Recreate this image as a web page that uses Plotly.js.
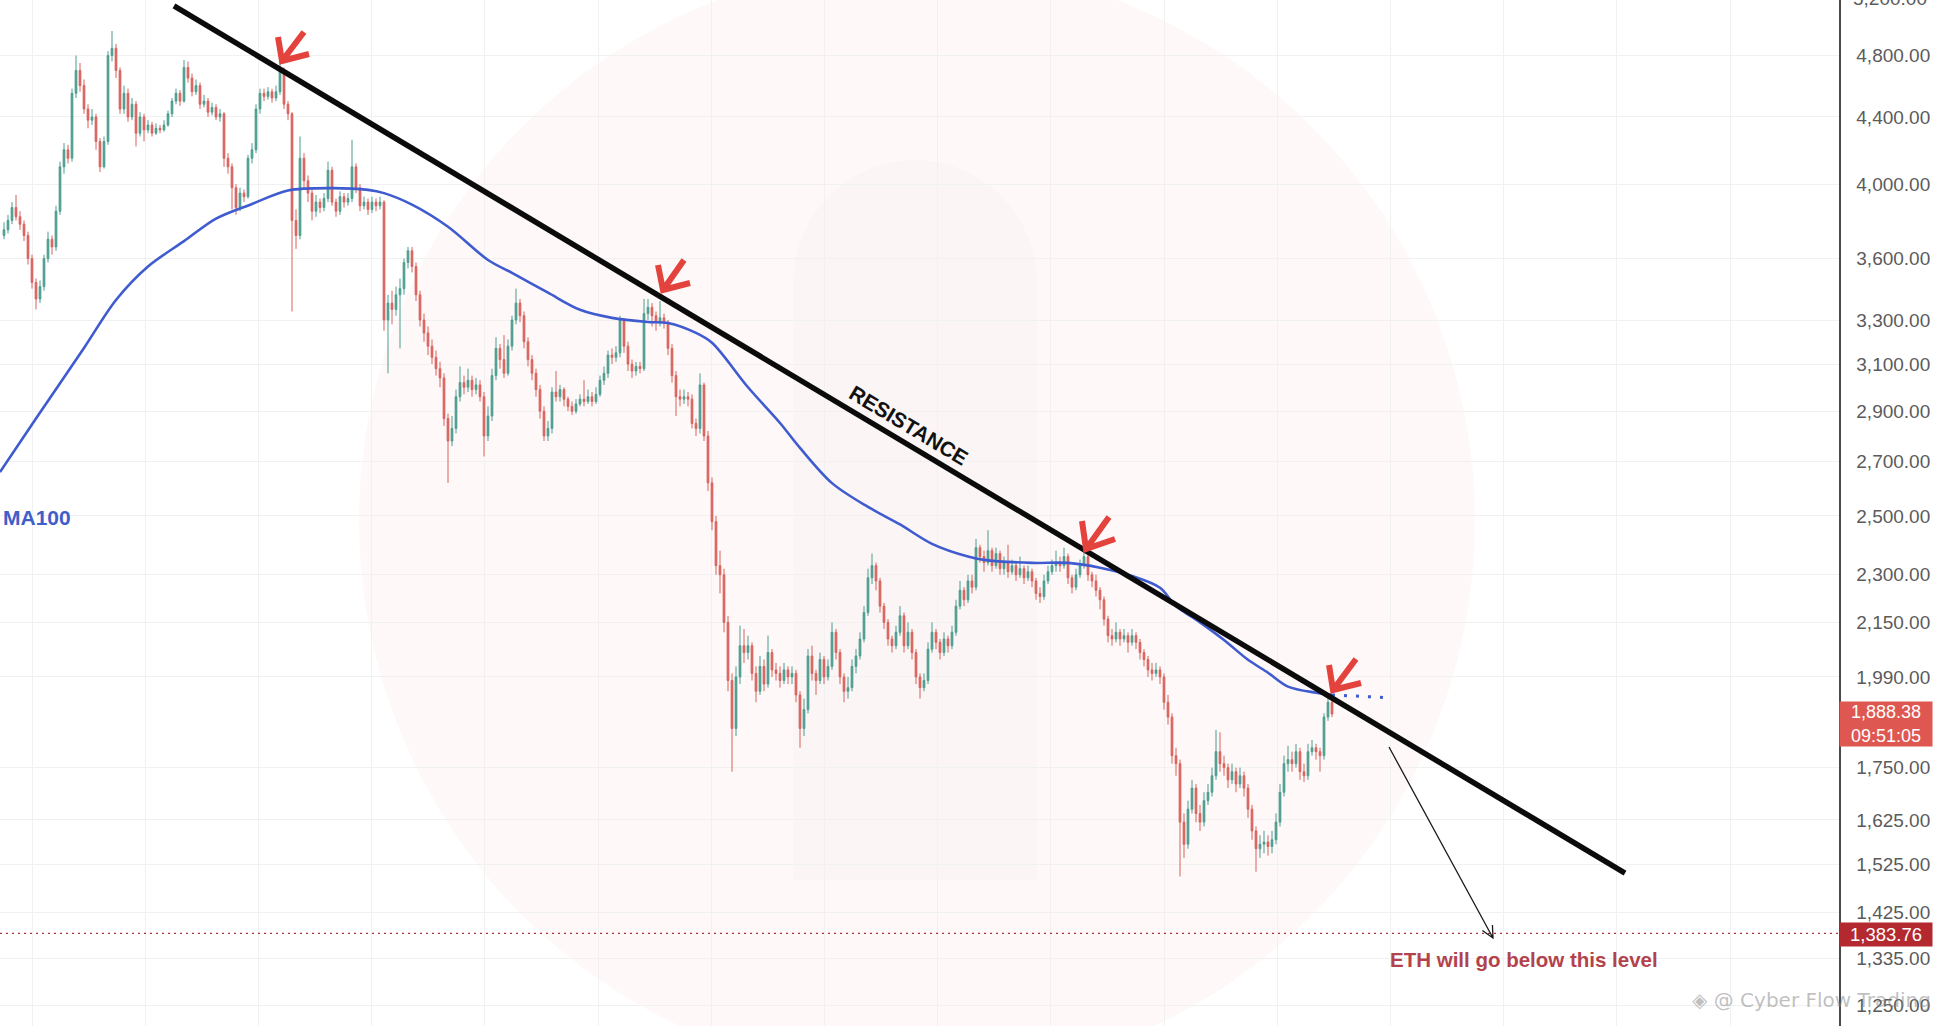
<!DOCTYPE html>
<html><head><meta charset="utf-8">
<script src="https://cdn.plot.ly/plotly-3.0.1.min.js"></script>
<style>html,body{margin:0;padding:0;background:#fff;}#chart{width:1944px;height:1026px;}</style>
</head><body><div id="chart"></div>
<script>
// ---------------- DATA ----------------
const firstOpen = 3720;
const close = [
3750,3800,3870,3820,3780,3720,3600,3480,3400,3460,
3600,3700,3660,3850,4100,4200,4150,4550,4700,4600,
4450,4380,4400,4250,4100,4250,4800,4850,4700,4450,
4550,4400,4480,4300,4400,4320,4350,4300,4330,4320,
4350,4420,4500,4550,4500,4720,4650,4560,4600,4480,
4500,4430,4460,4400,4420,4150,4100,3980,3870,3950,
3930,4150,4200,4450,4550,4530,4560,4520,4560,4700,
4480,4420,3800,3720,4150,4020,3950,3850,3900,3870,
3920,4080,3900,3850,3930,3900,3920,4100,3980,3880,
3900,3860,3900,3880,3900,3300,3380,3350,3420,3450,
3580,3640,3560,3420,3300,3240,3180,3130,3080,3040,
2870,2780,2830,2960,3020,3000,3030,2990,3010,2960,
2800,2880,3050,3170,3120,3060,3180,3300,3380,3320,
3200,3120,3060,2990,2900,2800,2830,2980,2960,2990,
2950,2920,2900,2930,2950,2940,2960,2940,2970,3030,
3060,3140,3130,3150,3300,3180,3100,3070,3090,3080,
3330,3360,3320,3290,3310,3290,3170,3050,2960,2950,
2960,2950,2850,2830,3010,2800,2620,2480,2330,2300,
2150,1980,1850,1990,2080,2060,2080,2000,1950,2020,
1970,2060,2010,2000,1980,2010,1990,2000,1940,1850,
1900,2050,2000,1980,2040,1990,2020,2120,2060,1990,
1950,1960,2020,2050,2100,2180,2290,2330,2280,2200,
2150,2100,2080,2120,2170,2080,2120,2060,1990,1960,
1980,2070,2120,2090,2060,2100,2080,2120,2200,2250,
2220,2280,2260,2390,2360,2340,2380,2330,2370,2320,
2340,2310,2330,2300,2320,2290,2310,2280,2240,2230,
2280,2310,2330,2340,2330,2360,2290,2260,2300,2330,
2360,2300,2280,2250,2220,2160,2110,2100,2120,2100,
2110,2090,2110,2090,2060,2040,2010,2000,2010,1990,
1920,1880,1780,1760,1620,1570,1650,1700,1640,1620,
1670,1690,1730,1790,1760,1750,1720,1740,1710,1730,
1700,1650,1600,1560,1570,1575,1565,1580,1620,1690,
1760,1770,1760,1790,1740,1730,1790,1800,1790,1780,
1880,1920,1888.38
];
const high = [
3790,3830,3900,3940,3850,3800,3740,3620,3500,3490,
3620,3740,3720,3880,4130,4240,4230,4580,4800,4750,
4640,4480,4450,4420,4270,4280,4830,4970,4880,4720,
4600,4580,4520,4500,4430,4420,4380,4370,4360,4350,
4380,4440,4520,4580,4570,4770,4760,4680,4640,4620,
4540,4520,4490,4480,4450,4430,4180,4120,4000,3980,
3970,4170,4240,4480,4580,4580,4590,4580,4600,4770,
4720,4500,4430,3860,4280,4180,4050,3970,3940,3920,
3950,4130,4100,3920,3960,3950,3950,4260,4120,4000,
3930,3920,3930,3920,3930,3910,3420,3440,3460,3500,
3600,3660,3660,3580,3440,3330,3270,3210,3160,3110,
3060,2890,2880,2990,3090,3050,3080,3050,3040,3030,
2980,2920,3080,3220,3190,3230,3210,3320,3450,3400,
3340,3220,3140,3080,3010,2920,2860,3000,3070,3010,
3000,2960,2940,2950,2970,3030,2990,2980,3000,3050,
3090,3160,3170,3180,3320,3310,3200,3120,3110,3110,
3400,3400,3380,3340,3390,3330,3300,3190,3070,2990,
2990,2980,2970,2870,3060,3020,2820,2640,2500,2380,
2320,2170,2000,2020,2140,2130,2110,2090,2020,2050,
2040,2110,2070,2030,2020,2030,2020,2020,2010,1950,
1930,2070,2080,2010,2060,2050,2040,2150,2130,2070,
2000,1990,2040,2070,2120,2200,2320,2370,2340,2290,
2210,2160,2110,2140,2200,2180,2150,2130,2070,2000,
2000,2090,2150,2130,2100,2120,2110,2140,2220,2280,
2260,2300,2300,2420,2400,2380,2450,2390,2390,2380,
2360,2400,2350,2340,2360,2330,2330,2320,2290,2260,
2300,2330,2350,2380,2360,2390,2370,2300,2320,2350,
2390,2370,2310,2300,2260,2230,2170,2130,2150,2130,
2130,2120,2130,2120,2100,2070,2050,2030,2030,2020,
2000,1940,1890,1800,1770,1640,1670,1720,1710,1660,
1690,1710,1750,1846,1840,1780,1760,1760,1750,1750,
1740,1710,1660,1610,1590,1600,1590,1600,1640,1710,
1780,1805,1790,1810,1800,1760,1810,1820,1810,1800,
1890,1940,1935
];
const low = [
3700,3730,3780,3800,3750,3690,3570,3450,3350,3380,
3440,3580,3620,3640,3830,4060,4120,4130,4520,4560,
4420,4330,4350,4200,4070,4090,4230,4760,4650,4420,
4420,4370,4380,4220,4280,4250,4300,4280,4290,4300,
4310,4340,4400,4480,4470,4490,4620,4530,4540,4450,
4460,4400,4410,4380,4370,4100,4060,3860,3830,3850,
3900,3920,4120,4180,4420,4500,4510,4490,4500,4540,
4450,4380,3340,3650,3700,3980,3900,3800,3820,3840,
3850,3900,3880,3820,3830,3870,3880,3900,3950,3850,
3860,3830,3840,3850,3860,3250,3060,3280,3320,3170,
3420,3550,3530,3390,3270,3200,3140,3100,3050,3000,
2840,2620,2760,2810,2940,2970,2980,2960,2970,2940,
2720,2780,2860,3030,3080,3040,3050,3160,3280,3290,
3170,3090,3030,2960,2870,2780,2780,2810,2940,2940,
2920,2900,2885,2890,2920,2920,2930,2920,2930,2960,
3010,3040,3100,3110,3130,3150,3070,3040,3050,3060,
3070,3300,3270,3250,3270,3260,3140,3020,2880,2920,
2930,2920,2830,2800,2810,2780,2590,2450,2300,2240,
2120,1950,1740,1830,1970,2030,2040,1980,1920,1940,
1950,1960,1990,1980,1960,1970,1970,1970,1920,1800,
1830,1890,1980,1940,1970,1970,1980,2010,2040,1970,
1920,1930,1950,2000,2040,2090,2170,2270,2250,2180,
2130,2080,2060,2070,2110,2060,2070,2040,1970,1930,
1950,1970,2060,2070,2040,2050,2060,2070,2110,2190,
2200,2210,2240,2250,2340,2310,2330,2310,2320,2300,
2300,2290,2300,2280,2290,2270,2280,2260,2220,2210,
2220,2270,2300,2310,2310,2320,2270,2240,2250,2290,
2320,2280,2260,2230,2190,2140,2090,2080,2090,2080,
2090,2060,2080,2070,2040,2020,1990,1980,1990,1970,
1900,1860,1760,1730,1500,1540,1560,1640,1620,1600,
1610,1660,1680,1720,1740,1730,1700,1710,1690,1700,
1680,1630,1580,1510,1540,1550,1545,1550,1570,1610,
1680,1740,1740,1750,1720,1715,1720,1780,1770,1740,
1770,1870,1880
];
// MA100 at candle indices
const maIdx = [-1,8,20,28,36,45,53,62,71,82,91,95,102,111,121,127,136,144,152,161,166,173,177,186,194,199,207,216,224,232,241,245,257,266,274,282,289,293,299,305,311,316,321,328,332];
const maVal = [2660,2870,3172,3395,3560,3690,3810,3890,3965,3978,3968,3950,3886,3766,3593,3528,3430,3348,3310,3291,3286,3240,3195,3000,2852,2753,2619,2532,2470,2403,2360,2349,2339,2339,2323,2296,2258,2200,2150,2097,2039,2002,1963,1946,1940];
const maProjIdx = [332, 347];
const maProjVal = [1940, 1932];
// resistance trend line end points (candle index, price)
const resIdx = [42.5, 405.25];
const resVal = [5150, 1507];
const levelVal = 1383.76;
const lastPrice = 1888.38;
const countdown = '09:51:05';
const tickVals = [1250,1335,1425,1525,1625,1750,1990,2150,2300,2500,2700,2900,3100,3300,3600,4000,4400,4800];

// ---------------- BUILD ----------------
function fmt(v){
  const p = v.toFixed(2).split('.');
  return p[0].replace(/\B(?=(\d{3})+(?!\d))/g, ',') + '.' + p[1];
}
const idx = close.map((_, i) => i);
const open = close.map((c, i) => i === 0 ? firstOpen : close[i-1]);
const hi = high.map((h, i) => Math.max(h, open[i], close[i]));
const lo = low.map((l, i) => Math.min(l, open[i], close[i]));

const XR = [-1, 458.75];
const YR = [3.08405, 3.71544];

const PW = 1839, PH = 1026;
const X = p => p / PW;
const Y = p => 1 - p / PH;
const pt = (a) => X(a[0]).toFixed(5) + ',' + Y(a[1]).toFixed(5);

const GREEN = '#4b9d8e', RED = '#d8625d';

const traces = [
  {type:'candlestick', x: idx, open: open, high: hi, low: lo, close: close,
   increasing:{line:{color:GREEN, width:1}, fillcolor:GREEN},
   decreasing:{line:{color:RED, width:1}, fillcolor:RED},
   whiskerwidth:0, hoverinfo:'skip', showlegend:false},
  {type:'scatter', mode:'lines', x: maIdx, y: maVal,
   line:{color:'#3f5bd0', width:2.6, shape:'spline', smoothing:0.9}, hoverinfo:'skip', showlegend:false},
  {type:'scatter', mode:'lines', x: maProjIdx, y: maProjVal,
   line:{color:'#3f5bd0', width:3, dash:'3px,9px'}, hoverinfo:'skip', showlegend:false},
  {type:'scatter', mode:'lines', x: XR, y: [levelVal, levelVal],
   line:{color:'#a8323a', width:1.4, dash:'2px,4px'}, hoverinfo:'skip', showlegend:false},
  {type:'scatter', mode:'lines', x: resIdx, y: resVal,
   line:{color:'#0b0b0b', width:5.5}, hoverinfo:'skip', showlegend:false}
];

// hand drawn red arrows (pixel geometry): shaft end, tip, arm1, arm2
const redArrows = [
  {s:[304,32],  t:[282,61],  a1:[278,37],  a2:[309,54]},
  {s:[684,260], t:[663,290], a1:[658,265], a2:[690,283]},
  {s:[1109,517],t:[1086,549],a1:[1082,521],a2:[1115,539]},
  {s:[1356,659],t:[1333,690],a1:[1329,665],a2:[1361,683]}
];
const shapes = [];
// faint watermark circle and badge
shapes.push({type:'circle', xref:'paper', yref:'paper', layer:'below',
  x0:X(359), x1:X(1475), y0:Y(1079), y1:Y(-37),
  fillcolor:'rgba(232,90,90,0.045)', line:{width:0}});
const bl=793, br=1037, bt=160, bb=880, bm=(bl+br)/2;
shapes.push({type:'path', xref:'paper', yref:'paper', layer:'below',
  path:`M ${pt([bl,bb])} L ${pt([bl,bt+122])} C ${pt([bl,bt+55])} ${pt([bm-67,bt])} ${pt([bm,bt])} C ${pt([bm+67,bt])} ${pt([br,bt+55])} ${pt([br,bt+122])} L ${pt([br,bb])} Z`,
  fillcolor:'rgba(0,0,0,0.012)', line:{width:0}});
redArrows.forEach(a => {
  shapes.push({type:'path', xref:'paper', yref:'paper',
    path:`M ${pt(a.s)} L ${pt(a.t)} M ${pt(a.a1)} L ${pt(a.t)} L ${pt(a.a2)}`,
    line:{color:'#e4433d', width:6}});
});
// thin black arrow
const p0=[1389,747], p1=[1493,938];
const dx=p1[0]-p0[0], dy=p1[1]-p0[1], L=Math.hypot(dx,dy), ux=dx/L, uy=dy/L;
function rot(x,y,a){const c=Math.cos(a), s=Math.sin(a); return [x*c-y*s, x*s+y*c];}
const hl=13, ha=26*Math.PI/180;
const r1=rot(-ux,-uy,ha), r2=rot(-ux,-uy,-ha);
const h1=[p1[0]+hl*r1[0], p1[1]+hl*r1[1]], h2=[p1[0]+hl*r2[0], p1[1]+hl*r2[1]];
shapes.push({type:'path', xref:'paper', yref:'paper',
  path:`M ${pt(p0)} L ${pt(p1)} M ${pt(h1)} L ${pt(p1)} L ${pt(h2)}`,
  line:{color:'#1a1a1a', width:1.3}});

const annotations = [
  {xref:'paper', yref:'paper', x:X(909), y:Y(425), text:'<b>RESISTANCE</b>', showarrow:false,
   textangle:31, font:{family:'Liberation Sans, Arial, sans-serif', size:21, color:'#111'}, xanchor:'center', yanchor:'middle'},
  {xref:'paper', yref:'paper', x:X(1), y:Y(517), text:'<b>MA100</b>', showarrow:false,
   font:{family:'Liberation Sans, Arial, sans-serif', size:21, color:'#3f5ec9'}, xanchor:'left', yanchor:'middle'},
  {xref:'paper', yref:'paper', x:X(1524), y:Y(959), text:'<b>ETH will go below this level</b>', showarrow:false,
   font:{family:'Liberation Sans, Arial, sans-serif', size:20.5, color:'#b3434b'}, xanchor:'center', yanchor:'middle'},
  {xref:'paper', yref:'paper', x:1, y:Y(724), text: fmt(lastPrice) + '<br>' + countdown, showarrow:false,
   bgcolor:'#df5751', width:92, height:44, borderpad:0, align:'center',
   font:{family:'Liberation Sans, Arial, sans-serif', size:18, color:'#ffffff'}, xanchor:'left', yanchor:'middle'},
  {xref:'paper', yref:'paper', x:1, y:Y(934), text: fmt(levelVal), showarrow:false,
   bgcolor:'#b3292f', width:92, height:23, borderpad:0, align:'center',
   font:{family:'Liberation Sans, Arial, sans-serif', size:18.5, color:'#ffffff'}, xanchor:'left', yanchor:'middle'},
  {xref:'paper', yref:'paper', x:1, xshift:12, y:Y(-1), text: fmt(5200), showarrow:false,
   font:{family:'Liberation Sans, Arial, sans-serif', size:19, color:'#5b5b5b'}, xanchor:'left', yanchor:'middle'},
  {xref:'paper', yref:'paper', x:X(1933), y:Y(1000), text:'◈ @ Cyber Flow Trading', showarrow:false,
   font:{family:'DejaVu Sans, sans-serif', size:20, color:'rgba(130,130,130,0.5)'}, xanchor:'right', yanchor:'middle'}
];

const layout = {
  width:1944, height:1026,
  margin:{l:0, r:105, t:0, b:0, pad:0},
  paper_bgcolor:'#ffffff', plot_bgcolor:'rgba(0,0,0,0)',
  showlegend:false, boxgap:0.4,
  xaxis:{range:XR, showticklabels:false, showgrid:true, gridcolor:'#f1f1f1', gridwidth:1,
         tick0:7, dtick:28.3, ticks:'', zeroline:false, showline:false,
         rangeslider:{visible:false}, fixedrange:true},
  yaxis:{type:'log', range:YR, side:'right', tickmode:'array', tickvals:tickVals,
         ticktext:tickVals.map(fmt), showgrid:true, gridcolor:'#f1f1f1', gridwidth:1,
         showline:true, linecolor:'#4a4a4a', linewidth:1.5, ticks:'', ticklabelstandoff:12,
         tickfont:{family:'Liberation Sans, Arial, sans-serif', size:19, color:'#5b5b5b'},
         zeroline:false, automargin:false, fixedrange:true},
  shapes: shapes,
  annotations: annotations
};
Plotly.newPlot('chart', traces, layout, {staticPlot:true, displayModeBar:false});
</script>
</body></html>
